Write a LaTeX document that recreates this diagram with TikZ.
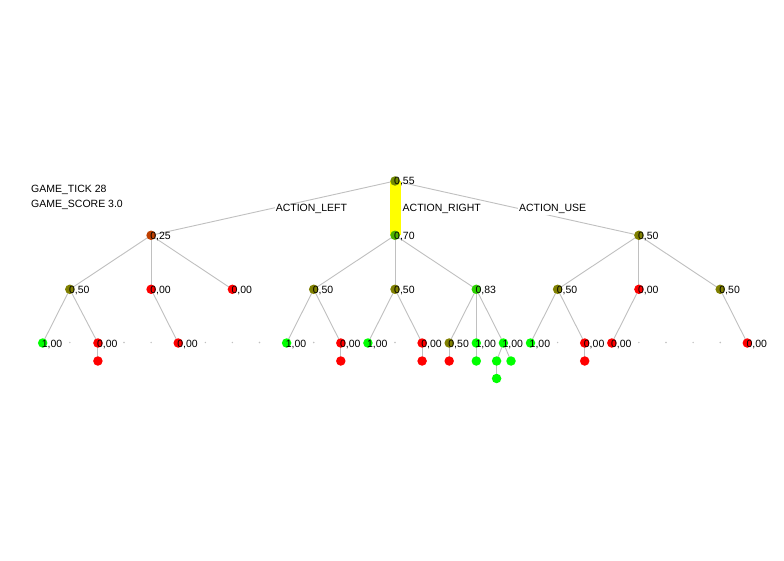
\documentclass[tikz,border=0pt]{standalone}
\usepackage{fontspec}
\setmainfont{Liberation Sans}
\usetikzlibrary{calc,backgrounds}
\definecolor{c000}{RGB}{255,0,0}
\definecolor{c100}{RGB}{0,255,0}
\definecolor{c025}{RGB}{191,64,0}
\definecolor{c050}{RGB}{128,128,0}
\definecolor{c055}{RGB}{115,140,0}
\definecolor{c070}{RGB}{77,178,0}
\definecolor{c083}{RGB}{43,212,0}
\definecolor{edgegray}{RGB}{192,192,192}
\definecolor{hiyellow}{RGB}{255,255,0}
\tikzset{
  vnode/.style={circle, inner sep=0pt, minimum size=9.5pt, fill=#1, draw=none},
  val/.style={font=\fontsize{10.5}{12}\selectfont, anchor=base west, inner sep=0pt, text=black},
  emptyslot/.style={circle, inner sep=0pt, minimum size=1.6pt, fill=edgegray, draw=none},
  treeedge/.style={draw=edgegray, line width=0.9pt},
  hiedge/.style={draw=hiyellow, line width=11pt, line cap=butt},
  elabel/.style={font=\fontsize{10.5}{12}\selectfont, anchor=base west, inner sep=1pt, fill=white, text=black},
  info/.style={font=\fontsize{10.5}{12}\selectfont, anchor=base west, inner sep=0pt, text=black},
}
\newcommand\vn[5]{%
  \node[vnode=#4] (#1) at (#2,#3) {};
  \node[val] (#1t) at (#2-1,#3+4) {#5};}
\newcommand\lf[4]{%
  \node[vnode=#4] (#1) at (#2,#3) {};}
\begin{document}
\begin{tikzpicture}[x=1pt,y=-1pt]
\useasboundingbox (0,0) rectangle (784,561);
% root and level 1
\vn{r}{395}{181}{c055}{0,55}
\vn{a}{151.1}{235.3}{c025}{0,25}
\vn{b}{395}{235.3}{c070}{0,70}
\vn{c}{638.9}{235.3}{c050}{0,50}
% level 2
\vn{a1}{69.8}{289.3}{c050}{0,50}
\vn{a2}{151.1}{289.3}{c000}{0,00}
\vn{a3}{232.4}{289.3}{c000}{0,00}
\vn{b1}{313.7}{289.3}{c050}{0,50}
\vn{b2}{395}{289.3}{c050}{0,50}
\vn{b3}{476.3}{289.3}{c083}{0,83}
\vn{c1}{557.6}{289.3}{c050}{0,50}
\vn{c2}{638.9}{289.3}{c000}{0,00}
\vn{c3}{720.2}{289.3}{c050}{0,50}
% level 3
\vn{a1a}{42.7}{343}{c100}{1,00}
\vn{a1c}{97.9}{343}{c000}{0,00}
\vn{a2c}{178.2}{343}{c000}{0,00}
\vn{b1a}{286.6}{343}{c100}{1,00}
\vn{b1c}{340.8}{343}{c000}{0,00}
\vn{b2a}{367.9}{343}{c100}{1,00}
\vn{b2c}{422.1}{343}{c000}{0,00}
\vn{b3a}{449.2}{343}{c050}{0,50}
\vn{b3b}{476.3}{343}{c100}{1,00}
\vn{b3c}{503.4}{343}{c100}{1,00}
\vn{c1a}{530.5}{343}{c100}{1,00}
\vn{c1c}{584.7}{343}{c000}{0,00}
\vn{c2a}{611.8}{343}{c000}{0,00}
\vn{c3c}{747.3}{343}{c000}{0,00}
% empty slots on level 3
\foreach \k in {1,3,4,6,7,8,10,13,19,22,23,24,25}
  \node[emptyslot] (e\k) at (42.7+27.1*\k,342.5) {};
% level 4
\lf{a1cx}{97.9}{361}{c000}
\lf{b1cx}{340.8}{361}{c000}
\lf{b2cx}{422.1}{361}{c000}
\lf{b3ax}{449.2}{361}{c000}
\lf{b3bx}{476.3}{361}{c100}
\lf{b3cx}{496.6}{361}{c100}
\lf{b3cy}{511}{361}{c100}
\lf{c1cx}{584.7}{361}{c000}
% level 5
\lf{b3cxx}{496.6}{378.5}{c100}
% edges
\begin{scope}[on background layer]
  \fill[white] (0,0) rectangle (784,561);
  \foreach \p/\q in {r/a,r/c,a/a1,a/a2,a/a3,b/b1,b/b2,b/b3,c/c1,c/c2,c/c3,
      a1/a1a,a1/a1c,a2/a2c,b1/b1a,b1/b1c,b2/b2a,b2/b2c,b3/b3a,b3/b3b,b3/b3c,
      c1/c1a,c1/c1c,c2/c2a,c3/c3c,
      a1c/a1cx,b1c/b1cx,b2c/b2cx,b3a/b3ax,b3b/b3bx,b3c/b3cx,b3c/b3cy,c1c/c1cx,
      b3cx/b3cxx}
    \draw[treeedge] (\p.center) -- (\q.center);
  \draw[hiedge] (r.center) -- (b.center);
\end{scope}
% edge labels
\node[elabel] (lleft) at ($(r.center)!0.5!(a.center)+(1.5,3.8)$) {ACTION\_LEFT};
\node[elabel] (lright) at ($(r.center)!0.5!(b.center)+(6.5,3.8)$) {ACTION\_RIGHT};
\node[elabel] (luse) at ($(r.center)!0.5!(c.center)+(1,3.8)$) {ACTION\_USE};
% info
\node[info] (tick) at (31,193) {GAME\_TICK 28};
\node[info] (score) at (31,207.5) {GAME\_SCORE 3.0};
\end{tikzpicture}
\end{document}
